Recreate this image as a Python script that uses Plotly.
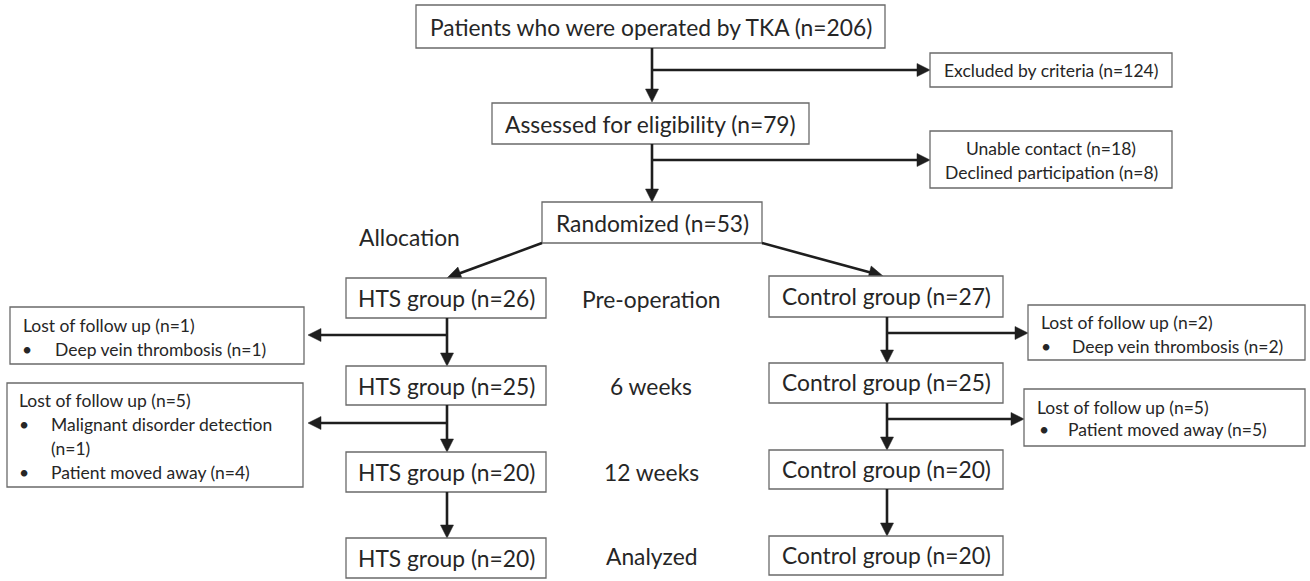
import math
import plotly.graph_objects as go

# ---- data ----
total_operated = 206
excluded_criteria = 124
assessed = 79
unable_contact = 18
declined = 8
randomized = 53
stages = ["Pre-operation", "6 weeks", "12 weeks", "Analyzed"]
hts_n = [26, 25, 20, 20]
control_n = [27, 25, 20, 20]
hts_lost = [1, 5]
hts_reasons = [[("Deep vein thrombosis", 1)],
               [("Malignant disorder detection", 1), ("Patient moved away", 4)]]
control_lost = [2, 5]
control_reasons = [[("Deep vein thrombosis", 2)],
                   [("Patient moved away", 5)]]

W, H = 1310, 581
FONT = "Lato"
TXT = "#262626"
BOX = "#6a6a6a"
ARR = "#1e1e1e"
BIG = 22.8
SMALL = 17.5

fig = go.Figure()
shapes = []
ann = []


def box(x0, x1, y0, y1):
    shapes.append(dict(type="rect", x0=x0, x1=x1, y0=y0, y1=y1, xref="x", yref="y",
                       line=dict(color=BOX, width=1.3), fillcolor="white", layer="above"))


def text(x, y, s, size=BIG, anchor="center"):
    ann.append(dict(x=x, y=y, text=s, showarrow=False, xanchor=anchor, yanchor="middle",
                    font=dict(family=FONT, size=size, color=TXT), xref="x", yref="y"))


def line(x0, y0, x1, y1, w=2.6):
    shapes.append(dict(type="line", x0=x0, y0=y0, x1=x1, y1=y1, xref="x", yref="y",
                       line=dict(color=ARR, width=w), layer="above"))


def head(xt, yt, direction, L=13, hw=6.5):
    if direction == "down":
        p = f"M{xt},{yt} L{xt-hw},{yt-L} L{xt+hw},{yt-L} Z"
    elif direction == "right":
        p = f"M{xt},{yt} L{xt-L},{yt-hw} L{xt-L},{yt+hw} Z"
    else:
        p = f"M{xt},{yt} L{xt+L},{yt-hw} L{xt+L},{yt+hw} Z"
    shapes.append(dict(type="path", path=p, xref="x", yref="y", fillcolor=ARR,
                       line=dict(color=ARR, width=0.5), layer="above"))


def arrow(x0, y0, x1, y1, direction):
    L = 13
    if direction == "down":
        line(x0, y0, x1, y1 - L + 1)
    elif direction == "right":
        line(x0, y0, x1 - L + 1, y1)
    else:
        line(x0, y0, x1 + L - 1, y1)
    head(x1, y1, direction)


def diag_arrow(x0, y0, x1, y1, L=14, hw=6.5):
    dx, dy = x1 - x0, y1 - y0
    d = math.hypot(dx, dy)
    ux, uy = dx / d, dy / d
    bx, by = x1 - ux * L, y1 - uy * L
    px, py = -uy, ux
    line(x0, y0, bx + ux, by + uy)
    p = f"M{x1},{y1} L{bx+px*hw},{by+py*hw} L{bx-px*hw},{by-py*hw} Z"
    shapes.append(dict(type="path", path=p, xref="x", yref="y", fillcolor=ARR,
                       line=dict(color=ARR, width=0.5), layer="above"))


# ---- top section ----
MX = 652
box(416, 885, 5, 48)
text(651, 27, f"Patients who were operated by TKA (n={total_operated})", BIG)
arrow(MX, 48, MX, 102, "down")
arrow(MX, 70, 930, 70, "right")
box(930, 1172, 53, 87)
text(1051, 70, f"Excluded by criteria (n={excluded_criteria})", SMALL)

box(492, 809, 103, 144)
text(650, 124, f"Assessed for eligibility (n={assessed})", BIG)
arrow(MX, 144, MX, 202, "down")
arrow(MX, 160, 930, 160, "right")
box(930, 1172, 131, 188)
text(1051, 148, f"Unable contact (n={unable_contact})", SMALL)
text(1051, 172, f"Declined participation (n={declined})", SMALL)

box(542, 762, 202, 243)
text(652, 223, f"Randomized (n={randomized})", BIG)
text(357, 237, "Allocation", BIG, "left")

# ---- group columns ----
HX0, HX1, HCX = 346, 546, 447
CX0, CX1, CCX = 769, 1003, 887
h_rows = [(278, 318), (366, 405), (452, 492), (538, 578)]
c_rows = [(276, 317), (363, 403), (450, 489), (536, 575)]
stage_y = [299, 386, 472, 556]

diag_arrow(542, 243, HCX, 278)
diag_arrow(762, 243, 883, 276)

for i, st in enumerate(stages):
    y0, y1 = h_rows[i]
    box(HX0, HX1, y0, y1)
    text((HX0 + HX1) / 2, (y0 + y1) / 2, f"HTS group (n={hts_n[i]})", BIG)
    y0, y1 = c_rows[i]
    box(CX0, CX1, y0, y1)
    text((CX0 + CX1) / 2, (y0 + y1) / 2 - 1, f"Control group (n={control_n[i]})", BIG)
    text(651, stage_y[i], st, BIG)
    if i < len(stages) - 1:
        arrow(HCX, h_rows[i][1], HCX, h_rows[i + 1][0], "down")
        arrow(CCX, c_rows[i][1], CCX, c_rows[i + 1][0], "down")

# ---- loss to follow-up boxes ----
h_branch_y = [335, 423]
c_branch_y = [333, 419]
h_boxes = [(10, 304, 307, 364), (7, 303, 383, 487)]
c_boxes = [(1028, 1305, 305, 360), (1024, 1305, 389, 446)]

for k in range(2):
    arrow(HCX, h_branch_y[k], 308, h_branch_y[k], "left")
    x0, x1, y0, y1 = h_boxes[k]
    box(x0, x1, y0, y1)
    x0c, x1c, y0c, y1c = c_boxes[k]
    arrow(CCX, c_branch_y[k], x0c, c_branch_y[k], "right")
    box(x0c, x1c, y0c, y1c)

# HTS side box 1
text(21, 325, f"Lost of follow up (n={hts_lost[0]})", SMALL, "left")
r, n = hts_reasons[0][0]
text(20, 349, "•", SMALL, "left")
text(53, 349, f"{r} (n={n})", SMALL, "left")
# HTS side box 2
text(17, 400, f"Lost of follow up (n={hts_lost[1]})", SMALL, "left")
r, n = hts_reasons[1][0]
text(17, 424, "•", SMALL, "left")
text(49, 424, r, SMALL, "left")
text(49, 448, f"(n={n})", SMALL, "left")
r, n = hts_reasons[1][1]
text(17, 472, "•", SMALL, "left")
text(49, 472, f"{r} (n={n})", SMALL, "left")

# Control side box 1
text(1039, 322, f"Lost of follow up (n={control_lost[0]})", SMALL, "left")
r, n = control_reasons[0][0]
text(1039, 346, "•", SMALL, "left")
text(1070, 346, f"{r} (n={n})", SMALL, "left")
# Control side box 2
text(1035, 407, f"Lost of follow up (n={control_lost[1]})", SMALL, "left")
r, n = control_reasons[1][0]
text(1037, 429, "•", SMALL, "left")
text(1066, 429, f"{r} (n={n})", SMALL, "left")

fig.update_layout(
    width=W, height=H,
    margin=dict(l=0, r=0, t=0, b=0),
    paper_bgcolor="white", plot_bgcolor="white",
    xaxis=dict(range=[0, W], visible=False, fixedrange=True),
    yaxis=dict(range=[H, 0], visible=False, fixedrange=True),
    shapes=shapes, annotations=ann, showlegend=False,
)
fig.write_html("out.html", config={"displayModeBar": False},
               post_script="document.body.style.margin='0px';document.body.style.overflow='hidden';")
